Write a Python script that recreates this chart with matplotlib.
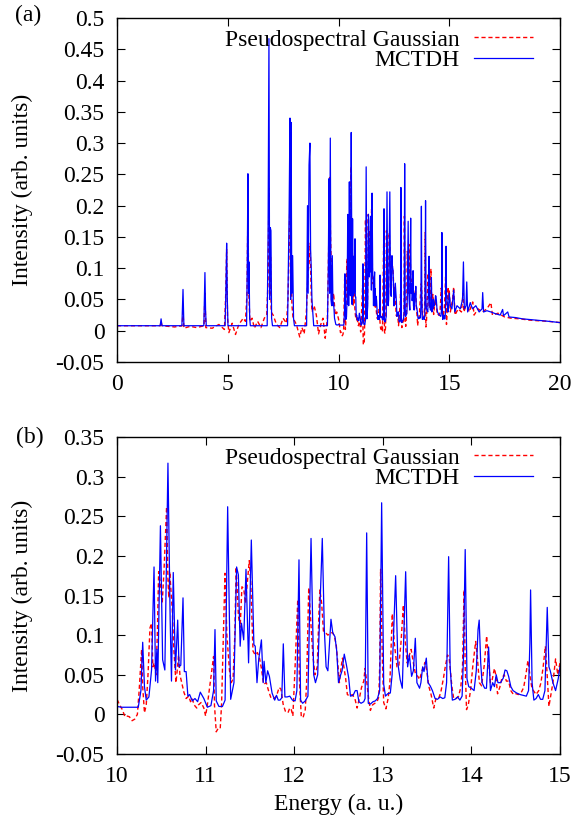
import matplotlib
matplotlib.use("Agg")
import matplotlib.pyplot as plt

plt.rcParams['font.family'] = ['Liberation Serif', 'DejaVu Serif']
plt.rcParams['font.size'] = 17

# ---------------- data ----------------
mctdh_energy = [
    0.0, 1.95, 1.99, 2.03, 2.93, 2.98, 3.02, 3.92, 3.97, 4.00, 4.03, 4.88, 4.92, 4.95, 4.98, 5.01,
    5.85, 5.88, 5.91, 5.94, 5.96, 5.99, 6.02, 6.78, 6.82, 6.86, 6.89, 6.92, 6.95, 6.98, 7.02,
    7.70, 7.74, 7.77, 7.81, 7.84, 7.86, 7.89, 7.93, 7.97, 8.01, 8.56, 8.60, 8.63, 8.67, 8.71,
    8.74, 8.77, 8.80, 8.84, 8.88, 9.50, 9.54, 9.57, 9.60, 9.63, 9.66, 9.69, 9.72, 9.75, 9.78,
    9.82, 9.88, 9.94,
    10.00, 10.05, 10.24, 10.27, 10.29, 10.31, 10.33, 10.36, 10.39, 10.418, 10.435, 10.45, 10.46,
    10.49, 10.515, 10.54, 10.575, 10.60, 10.615, 10.635, 10.66, 10.685, 10.70, 10.72, 10.745,
    10.76, 10.78, 10.80, 10.82, 10.85, 10.88, 10.91, 10.94, 10.98, 11.02, 11.06, 11.09, 11.106,
    11.12, 11.15, 11.19, 11.22, 11.249, 11.283, 11.32, 11.35, 11.37, 11.39, 11.405, 11.43,
    11.456, 11.485, 11.516, 11.545, 11.56, 11.58, 11.60, 11.63, 11.65, 11.66, 11.68, 11.70,
    11.72, 11.75, 11.78, 11.80, 11.82, 11.84, 11.86, 11.877, 11.895, 11.92, 11.95, 11.98, 12.01,
    12.03, 12.054, 12.072, 12.095, 12.125, 12.155, 12.19, 12.22, 12.24, 12.265, 12.317, 12.34,
    12.36, 12.38, 12.415, 12.435, 12.46, 12.48, 12.50, 12.525, 12.54, 12.565, 12.59, 12.615,
    12.635, 12.665, 12.69, 12.71, 12.73, 12.755, 12.785, 12.80, 12.818, 12.836, 12.86, 12.89,
    12.915, 12.94, 12.965, 12.987, 13.01, 13.03, 13.055, 13.085, 13.105, 13.145, 13.17, 13.196,
    13.22, 13.258, 13.28, 13.30, 13.325, 13.345, 13.367, 13.385, 13.415, 13.43, 13.45, 13.465,
    13.491, 13.51, 13.535, 13.56, 13.59, 13.617, 13.647, 13.677, 13.70, 13.72, 13.743, 13.76,
    13.785, 13.815, 13.845, 13.87, 13.895, 13.91, 13.93, 13.95, 13.97, 14.00, 14.03, 14.055,
    14.075, 14.088, 14.105, 14.12, 14.15, 14.17, 14.194, 14.215, 14.24, 14.26, 14.28, 14.30,
    14.33, 14.36, 14.38, 14.40, 14.42, 14.445, 14.47, 14.51, 14.55, 14.585, 14.62, 14.645,
    14.66, 14.668, 14.685, 14.705, 14.73, 14.755, 14.78, 14.805, 14.83, 14.856, 14.875, 14.89,
    14.92, 14.95, 14.98, 15.00,
    15.05, 15.12, 15.20, 15.25, 15.35, 15.50, 15.60, 15.64, 15.68, 15.76, 15.79, 15.83, 15.95,
    16.05, 16.20, 16.35, 16.48, 16.51, 16.55, 16.70, 16.88, 17.10, 17.30, 17.41, 17.45, 17.64,
    17.70, 18.00, 18.30, 18.60, 18.90, 19.20, 19.50, 20.00,
]
mctdh_intensity = [
    0.008, 0.008, 0.019, 0.008, 0.008, 0.066, 0.008, 0.008, 0.093, 0.030, 0.008, 0.008, 0.070, 0.140, 0.050, 0.008,
    0.008, 0.100, 0.251, 0.060, 0.110, 0.020, 0.008, 0.008, 0.150, 0.467, 0.050, 0.165, 0.160, 0.020, 0.008,
    0.008, 0.120, 0.190, 0.340, 0.050, 0.333, 0.060, 0.120, 0.020, 0.008, 0.008, 0.200, 0.060, 0.265, 0.300,
    0.130, 0.100, 0.050, 0.030, 0.008, 0.008, 0.100, 0.243, 0.060, 0.308, 0.050, 0.040, 0.120, 0.040, 0.045,
    0.020, 0.010, 0.009,
    0.010, 0.009, 0.009, 0.030, 0.091, 0.035, 0.018, 0.022, 0.056, 0.186, 0.042, 0.082, 0.040,
    0.238, 0.069, 0.056, 0.317, 0.120, 0.042, 0.179, 0.056, 0.119, 0.060, 0.062, 0.147,
    0.054, 0.054, 0.023, 0.025, 0.017, 0.020, 0.016, 0.028, 0.020, 0.009, 0.011, 0.030, 0.107,
    0.017, 0.010, 0.010, 0.018, 0.262, 0.019, 0.040, 0.186, 0.176, 0.086, 0.115, 0.094,
    0.183, 0.065, 0.220, 0.088, 0.086, 0.040, 0.070, 0.094, 0.040, 0.067, 0.040, 0.055,
    0.048, 0.027, 0.018, 0.024, 0.018, 0.018, 0.021, 0.089, 0.022, 0.022, 0.023, 0.018, 0.017,
    0.030, 0.195, 0.018, 0.014, 0.017, 0.023, 0.222, 0.050, 0.040, 0.050, 0.222, 0.107,
    0.060, 0.055, 0.120, 0.103, 0.098, 0.080, 0.040, 0.050, 0.055, 0.076, 0.062, 0.046,
    0.023, 0.024, 0.030, 0.030, 0.016, 0.014, 0.016, 0.020, 0.229, 0.014, 0.013, 0.016,
    0.017, 0.020, 0.030, 0.267, 0.038, 0.023, 0.026, 0.027, 0.050, 0.175, 0.064, 0.044,
    0.033, 0.180, 0.060, 0.075, 0.048, 0.055, 0.096, 0.040, 0.033, 0.040, 0.060, 0.054,
    0.071, 0.040, 0.036, 0.030, 0.020, 0.019, 0.022, 0.020, 0.021, 0.040, 0.199, 0.060,
    0.018, 0.019, 0.022, 0.018, 0.023, 0.070, 0.208, 0.045, 0.035, 0.033, 0.030, 0.055,
    0.107, 0.119, 0.065, 0.040, 0.033, 0.033, 0.085, 0.030, 0.040, 0.035, 0.050, 0.040,
    0.040, 0.046, 0.056, 0.055, 0.048, 0.035, 0.030, 0.027, 0.025, 0.024, 0.023, 0.030,
    0.090, 0.157, 0.040, 0.018, 0.020, 0.025, 0.019, 0.019, 0.030, 0.135, 0.060, 0.055,
    0.040, 0.030, 0.045, 0.060,
    0.040, 0.035, 0.065, 0.030, 0.040, 0.035, 0.050, 0.110, 0.035, 0.040, 0.078, 0.030, 0.045,
    0.035, 0.040, 0.030, 0.035, 0.061, 0.030, 0.032, 0.030, 0.027, 0.025, 0.034, 0.024, 0.030,
    0.022, 0.021, 0.019, 0.018, 0.017, 0.016, 0.015, 0.013,
]

gauss_energy = [
    0.0, 1.95, 1.99, 2.03, 2.60, 2.94, 2.98, 3.02, 3.30, 3.60, 3.93, 3.97, 4.01, 4.30, 4.60,
    4.85, 4.91, 4.95, 4.99, 5.05, 5.20, 5.35, 5.50, 5.70, 5.80, 5.87, 5.91, 5.95, 6.00, 6.10,
    6.20, 6.35, 6.50, 6.65, 6.76, 6.82, 6.86, 6.90, 6.93, 6.96, 7.05, 7.20, 7.35, 7.50, 7.65,
    7.72, 7.78, 7.81, 7.85, 7.90, 7.95, 8.10, 8.25, 8.35, 8.45, 8.55, 8.62, 8.68, 8.72, 8.76,
    8.80, 8.90, 9.00, 9.10, 9.20, 9.30, 9.40, 9.50, 9.55, 9.60, 9.64, 9.68, 9.72, 9.78, 9.85,
    9.92,
    10.00, 10.03, 10.06, 10.09, 10.11, 10.14, 10.17, 10.20, 10.23, 10.25, 10.278, 10.29, 10.31,
    10.33, 10.35, 10.372, 10.39, 10.405, 10.42, 10.44, 10.455, 10.47, 10.49, 10.51, 10.53,
    10.56, 10.575, 10.585, 10.595, 10.61, 10.625, 10.64, 10.665, 10.68, 10.695, 10.71, 10.73,
    10.755, 10.78, 10.81, 10.83, 10.85, 10.87, 10.90, 10.92, 10.95, 10.98, 11.00, 11.02, 11.09,
    11.10, 11.12, 11.14, 11.165, 11.18, 11.219, 11.24, 11.27, 11.29, 11.31, 11.33, 11.345,
    11.37, 11.39, 11.41, 11.43, 11.45, 11.493, 11.51, 11.535, 11.56, 11.585, 11.61, 11.63,
    11.655, 11.685, 11.71, 11.74, 11.77, 11.80, 11.83, 11.85, 11.875, 11.90, 11.93, 11.95,
    11.965, 11.985, 12.01, 12.04, 12.06, 12.08, 12.10, 12.125, 12.14, 12.164, 12.18, 12.21,
    12.235, 12.26, 12.28, 12.29, 12.31, 12.33, 12.355, 12.38, 12.41, 12.435, 12.455, 12.475,
    12.495, 12.51, 12.53, 12.545, 12.56, 12.58, 12.60, 12.63, 12.655, 12.685, 12.71, 12.735,
    12.76, 12.785, 12.80, 12.82, 12.84, 12.86, 12.885, 12.91, 12.935, 12.955, 12.965, 12.975,
    12.995, 13.01, 13.035, 13.06, 13.08, 13.095, 13.107, 13.13, 13.16, 13.18, 13.205, 13.232,
    13.255, 13.275, 13.30, 13.32, 13.345, 13.37, 13.395, 13.415, 13.435, 13.455, 13.48, 13.50,
    13.52, 13.545, 13.575, 13.60, 13.63, 13.655, 13.685, 13.705, 13.731, 13.75, 13.78, 13.80,
    13.83, 13.855, 13.88, 13.90, 13.917, 13.93, 13.945, 13.965, 13.99, 14.015, 14.048, 14.065,
    14.09, 14.115, 14.145, 14.172, 14.19, 14.215, 14.235, 14.26, 14.275, 14.295, 14.32, 14.345,
    14.37, 14.395, 14.42, 14.445, 14.475, 14.505, 14.53, 14.56, 14.59, 14.615, 14.638, 14.66,
    14.68, 14.70, 14.73, 14.76, 14.785, 14.81, 14.835, 14.85, 14.875, 14.89, 14.92, 14.95,
    14.975, 15.00,
    15.05, 15.15, 15.20, 15.26, 15.40, 15.55, 15.62, 15.66, 15.80, 15.90, 16.06, 16.12, 16.30,
    16.50, 16.70, 16.88, 16.95, 17.20, 17.50, 17.80, 18.20, 18.60, 19.00, 19.50, 20.00,
]
gauss_intensity = [
    0.008, 0.008, 0.015, 0.008, 0.006, 0.008, 0.030, 0.004, 0.007, 0.005, 0.008, 0.060, 0.005, 0.004, 0.010,
    0.002, 0.060, 0.130, 0.020, -0.003, 0.012, -0.006, 0.010, 0.020, 0.015, 0.060, 0.190, 0.060, 0.015, 0.020,
    0.004, 0.015, 0.005, 0.020, 0.025, 0.080, 0.228, 0.060, 0.120, 0.030, 0.025, 0.010, 0.005, 0.020, 0.012,
    0.050, 0.150, 0.226, 0.100, 0.040, 0.020, 0.010, -0.010, 0.005, -0.005, 0.030, 0.090, 0.110, 0.140, 0.070,
    0.030, 0.040, 0.025, -0.005, 0.010, 0.020, -0.012, 0.020, 0.120, 0.245, 0.150, 0.100, 0.040, 0.060, 0.025,
    0.030,
    0.019, 0.012, 0.006, -0.003, -0.002, -0.003, -0.008, -0.006, 0.000, 0.030, 0.082, 0.035, 0.002,
    0.012, 0.050, 0.109, 0.115, 0.060, 0.065, 0.050, 0.100, 0.180, 0.166, 0.140, 0.180,
    0.262, 0.170, 0.147, 0.180, 0.156, 0.130, 0.085, 0.040, 0.056, 0.075, 0.050, 0.040,
    0.028, 0.020, 0.023, 0.016, 0.020, 0.012, 0.008, 0.012, 0.015, 0.008, -0.002, 0.012, 0.073,
    0.012, -0.022, -0.018, -0.018, 0.012, 0.178, 0.100, 0.055, 0.040, 0.045, 0.100, 0.186,
    0.125, 0.110, 0.161, 0.159, 0.140, 0.194, 0.165, 0.080, 0.075, 0.078, 0.070, 0.058,
    0.038, 0.040, 0.030, 0.020, 0.020, 0.023, 0.034, 0.032, 0.013, 0.004, 0.002, 0.008,
    0.007, -0.002, 0.060, 0.145, 0.040, -0.003, -0.004, 0.006, 0.040, 0.160, 0.130, 0.075,
    0.050, 0.060, 0.130, 0.157, 0.140, 0.105, 0.103, 0.100, 0.103, 0.103, 0.098, 0.087,
    0.060, 0.040, 0.060, 0.071, 0.060, 0.046, 0.025, 0.023, 0.025, 0.020, 0.008, 0.020,
    0.034, 0.042, 0.058, 0.040, 0.020, 0.005, 0.012, 0.014, 0.016, 0.022, 0.060, 0.183,
    0.070, 0.015, 0.007, 0.020, 0.040, 0.090, 0.127, 0.090, 0.060, 0.060, 0.090, 0.138,
    0.090, 0.065, 0.075, 0.082, 0.065, 0.050, 0.048, 0.044, 0.052, 0.060, 0.066, 0.052,
    0.035, 0.025, 0.008, 0.020, 0.020, 0.028, 0.046, 0.060, 0.075, 0.070, 0.035, 0.020,
    0.020, 0.023, 0.034, 0.060, 0.157, 0.060, 0.006, 0.012, 0.030, 0.060, 0.092, 0.075,
    0.040, 0.036, 0.062, 0.099, 0.072, 0.040, 0.044, 0.058, 0.050, 0.026, 0.034, 0.046,
    0.050, 0.042, 0.042, 0.030, 0.025, 0.026, 0.025, 0.027, 0.034, 0.050, 0.068, 0.050,
    0.035, 0.030, 0.025, 0.030, 0.040, 0.060, 0.086, 0.060, 0.010, 0.020, 0.040, 0.070,
    0.050, 0.065,
    0.030, 0.050, 0.070, 0.025, 0.035, 0.030, 0.060, 0.030, 0.045, 0.030, 0.046, 0.025, 0.035,
    0.030, 0.035, 0.045, 0.025, 0.028, 0.022, 0.020, 0.019, 0.017, 0.016, 0.015, 0.013,
]

series_labels = ["Pseudospectral Gaussian", "MCTDH"]
series_colors = ["#ff0000", "#0000ff"]

panel_tags = ["(a)", "(b)"]
panel_xlim = [(0, 20), (10, 15)]
panel_ylim = [(-0.05, 0.5), (-0.05, 0.35)]
panel_xticks = [[0, 5, 10, 15, 20], [10, 11, 12, 13, 14, 15]]
panel_yticks = [
    [-0.05, 0, 0.05, 0.1, 0.15, 0.2, 0.25, 0.3, 0.35, 0.4, 0.45, 0.5],
    [-0.05, 0, 0.05, 0.1, 0.15, 0.2, 0.25, 0.3, 0.35],
]

y_label = "Intensity (arb. units)"
x_label = "Energy (a. u.)"


def fmt(v):
    s = ("%.2f" % v).rstrip("0").rstrip(".")
    return "0" if s in ("-0", "0") else s


W, H = 576, 826
FS = 17
fig = plt.figure(figsize=(W / 100, H / 100), dpi=100)
boxes = [(117, 18, 560, 362), (117, 437, 560, 754)]  # left, top, right, bottom in px
tag_pos = [(28, 15), (30, 437)]
legend_top_offset = [11, 10]

for i, (l, t, r, b) in enumerate(boxes):
    ax = fig.add_axes([l / W, 1 - b / H, (r - l) / W, (b - t) / H])
    ax.plot(gauss_energy, gauss_intensity, color=series_colors[0], lw=1.0,
            linestyle=(0, (3, 2)), label=series_labels[0])
    ax.plot(mctdh_energy, mctdh_intensity, color=series_colors[1], lw=0.9,
            label=series_labels[1])
    ax.set_xlim(*panel_xlim[i])
    ax.set_ylim(*panel_ylim[i])
    ax.set_xticks(panel_xticks[i])
    ax.set_xticklabels([fmt(v) for v in panel_xticks[i]])
    ax.set_yticks(panel_yticks[i])
    ax.set_yticklabels([fmt(v) for v in panel_yticks[i]])
    ax.tick_params(direction="in", length=6, width=0.8, top=True, right=True,
                   labelsize=FS)
    ax.tick_params(axis="y", pad=9)
    ax.tick_params(axis="x", pad=9)
    for sp in ax.spines.values():
        sp.set_linewidth(1.0)
    ax.set_ylabel(y_label, fontsize=FS)
    ax.yaxis.set_label_coords(-0.19, 0.5)
    if i == 1:
        ax.set_xlabel(x_label, fontsize=FS)
        ax.xaxis.set_label_coords(0.5, -0.125)
    ax.legend(loc="upper right",
              bbox_to_anchor=(0.939, 1 - legend_top_offset[i] / (b - t)),
              frameon=False, markerfirst=False, handlelength=2.5,
              handletextpad=0.6, labelspacing=-0.05, borderpad=0,
              borderaxespad=0, fontsize=FS)
    fig.text(tag_pos[i][0] / W, 1 - tag_pos[i][1] / H, panel_tags[i],
             ha="center", va="center", fontsize=FS)

fig.savefig("out.png", dpi=100)
